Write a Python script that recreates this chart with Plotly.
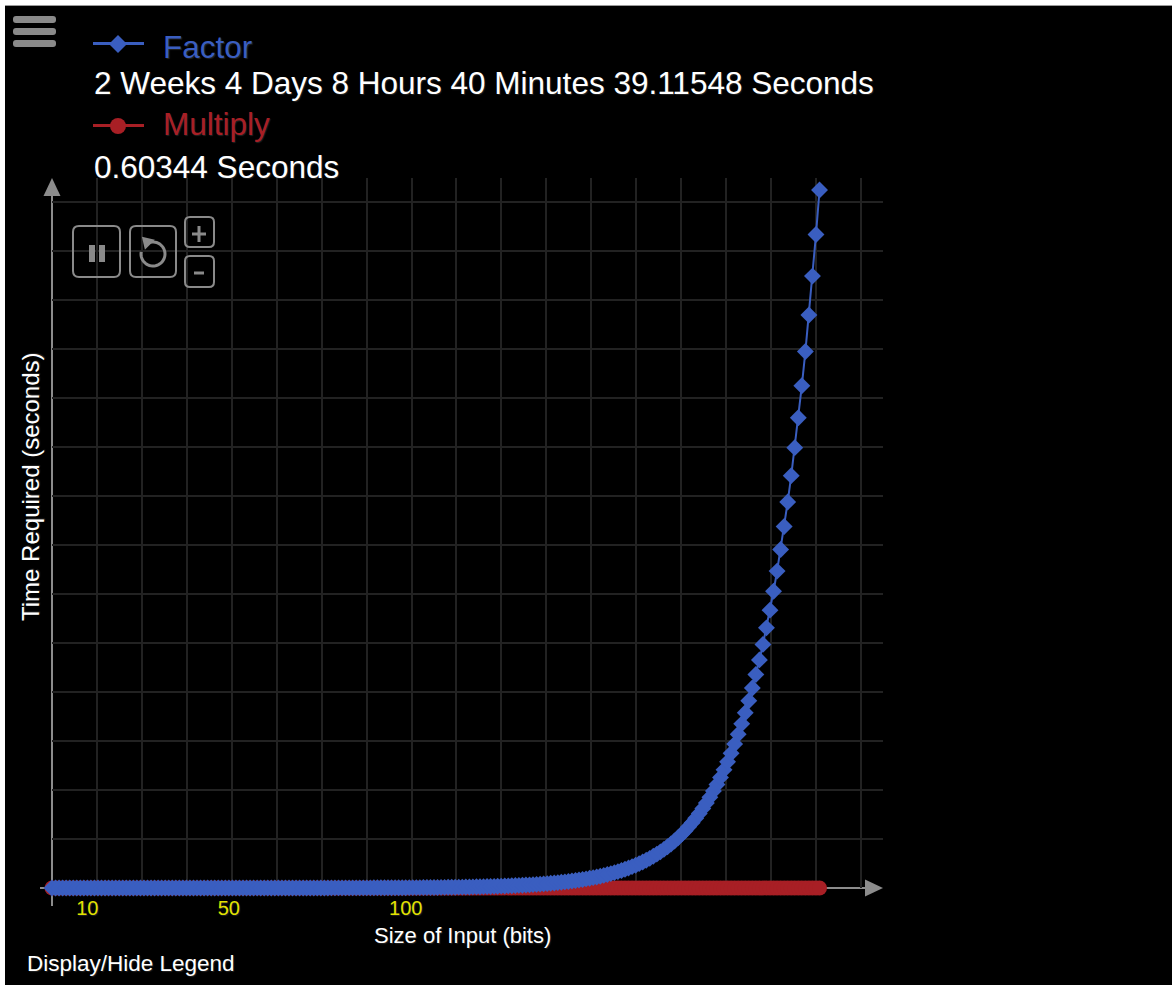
import math
import plotly.graph_objects as go

# ---------------- data ----------------
bits = list(range(0, 218))  # size of input (bits)

factor_seconds = [
    1.00, 1.07, 1.14, 1.22, 1.30, 1.39, 1.48, 1.58, 1.69, 1.81,
    1.93, 2.06, 2.20, 2.35, 2.51, 2.68, 2.87, 3.06, 3.27, 3.49,
    3.73, 3.98, 4.25, 4.54, 4.85, 5.18, 5.53, 5.91, 6.31, 6.74,
    7.20, 7.69, 8.21, 8.77, 9.36, 10.0, 10.7, 11.4, 12.2, 13.0,
    13.9, 14.8, 15.9, 16.9, 18.1, 19.3, 20.6, 22.0, 23.5, 25.1,
    26.8, 28.7, 30.6, 32.7, 34.9, 37.3, 39.8, 42.5, 45.4, 48.5,
    51.8, 55.3, 59.1, 63.1, 67.4, 72.0, 76.9, 82.1, 87.7, 93.7,
    100, 107, 114, 122, 130, 139, 148, 159, 169, 181,
    193, 206, 220, 235, 251, 268, 287, 306, 327, 349,
    373, 398, 425, 454, 485, 518, 553, 591, 631, 674,
    720, 769, 821, 877, 937, 1000, 1068, 1141, 1219, 1302,
    1390, 1485, 1586, 1693, 1809, 1932, 2063, 2203, 2353, 2513,
    2684, 2867, 3062, 3270, 3492, 3730, 3983, 4254, 4543, 4852,
    5182, 5535, 5911, 6313, 6742, 7201, 7691, 8214, 8772, 9369,
    10006, 10686, 11413, 12189, 13018, 13903, 14849, 15859, 16937, 18089,
    19319, 20633, 22036, 23535, 25135, 26844, 28670, 30620, 32702, 34926,
    37301, 39838, 42547, 45440, 48530, 51831, 55356, 59120, 63140, 67434,
    72020, 76918, 82149, 87735, 93702, 100074, 106880, 114148, 121910, 130201,
    139055, 148511, 158611, 169397, 180917, 193221, 206360, 220393, 235381, 251390,
    268485, 286743, 306243, 327069, 349312, 373065, 398437, 425533, 454470, 485378,
    518385, 553638, 591288, 631499, 674442, 720308, 769293, 821609, 877482, 937156,
    1000887, 1068952, 1141647, 1219285, 1302200, 1390759, 1485336, 1586439.11548,
]

multiply_seconds = [
    0.0000, 0.0000, 0.0001, 0.0001, 0.0002, 0.0003, 0.0005, 0.0006, 0.0008, 0.0010,
    0.0013, 0.0016, 0.0018, 0.0022, 0.0025, 0.0029, 0.0033, 0.0037, 0.0042, 0.0046,
    0.0051, 0.0057, 0.0062, 0.0068, 0.0074, 0.0080, 0.0087, 0.0093, 0.0100, 0.0108,
    0.0115, 0.0123, 0.0131, 0.0140, 0.0148, 0.0157, 0.0166, 0.0175, 0.0185, 0.0195,
    0.0205, 0.0215, 0.0226, 0.0237, 0.0248, 0.0260, 0.0271, 0.0283, 0.0295, 0.0308,
    0.0320, 0.0333, 0.0347, 0.0360, 0.0374, 0.0388, 0.0402, 0.0416, 0.0431, 0.0446,
    0.0461, 0.0477, 0.0493, 0.0509, 0.0525, 0.0541, 0.0558, 0.0575, 0.0593, 0.0610,
    0.0628, 0.0646, 0.0664, 0.0683, 0.0702, 0.0721, 0.0740, 0.0760, 0.0780, 0.0800,
    0.0820, 0.0841, 0.0862, 0.0883, 0.0904, 0.0926, 0.0948, 0.0970, 0.0992, 0.1015,
    0.1038, 0.1061, 0.1085, 0.1108, 0.1132, 0.1157, 0.1181, 0.1206, 0.1231, 0.1256,
    0.1281, 0.1307, 0.1333, 0.1360, 0.1386, 0.1413, 0.1440, 0.1467, 0.1495, 0.1523,
    0.1551, 0.1579, 0.1607, 0.1636, 0.1665, 0.1695, 0.1724, 0.1754, 0.1784, 0.1815,
    0.1845, 0.1876, 0.1907, 0.1939, 0.1970, 0.2002, 0.2034, 0.2067, 0.2100, 0.2133,
    0.2166, 0.2199, 0.2233, 0.2267, 0.2301, 0.2336, 0.2370, 0.2405, 0.2440, 0.2476,
    0.2512, 0.2548, 0.2584, 0.2621, 0.2657, 0.2694, 0.2732, 0.2769, 0.2807, 0.2845,
    0.2883, 0.2922, 0.2961, 0.3000, 0.3039, 0.3079, 0.3119, 0.3159, 0.3199, 0.3240,
    0.3281, 0.3322, 0.3363, 0.3405, 0.3447, 0.3489, 0.3531, 0.3574, 0.3617, 0.3660,
    0.3704, 0.3747, 0.3791, 0.3835, 0.3880, 0.3925, 0.3970, 0.4015, 0.4060, 0.4106,
    0.4152, 0.4198, 0.4245, 0.4292, 0.4339, 0.4386, 0.4433, 0.4481, 0.4529, 0.4577,
    0.4626, 0.4675, 0.4724, 0.4773, 0.4823, 0.4873, 0.4923, 0.4973, 0.5024, 0.5075,
    0.5126, 0.5177, 0.5229, 0.5281, 0.5333, 0.5385, 0.5438, 0.5491, 0.5544, 0.5598,
    0.5651, 0.5705, 0.5760, 0.5814, 0.5869, 0.5924, 0.5979, 0.60344,
]

x_tick_values = [10, 50, 100]
x_tick_labels = ["10", "50", "100"]

series_names = ["Factor", "Multiply"]
factor_total_text = "2 Weeks 4 Days 8 Hours 40 Minutes 39.11548 Seconds"
multiply_total_text = "0.60344 Seconds"

# ---------------- styling / layout constants ----------------
W, H = 1172, 985
PLOT_L, PLOT_R, PLOT_T, PLOT_B = 52, 883, 178, 888
PX_PER_BIT = 3.537
TOP_POINT_PX = 190

BLUE = "#3a5ec0"
RED = "#a81f25"
GRAY = "#8c8c8c"
GRID = "#222222"
YELLOW = "#e2e200"
FONT = "Liberation Sans, Arial, Helvetica, sans-serif"
SHADOW = "1px 1px 1px #222"

x_max = (PLOT_R - PLOT_L) / PX_PER_BIT
y_max = factor_seconds[-1] * (PLOT_B - PLOT_T) / (PLOT_B - TOP_POINT_PX)
y_grid_step = y_max * 49 / (PLOT_B - PLOT_T)
x_grid_step = 44.94 / PX_PER_BIT


def px(x):
    return x / W


def py(y):
    return 1 - y / H


def pt(x, y):
    return f"{px(x):.6f},{py(y):.6f}"


def poly_path(points, closed=True):
    s = "M" + pt(*points[0]) + "".join("L" + pt(*p) for p in points[1:])
    return s + ("Z" if closed else "")


def rrect_path(x0, y0, x1, y1, r):
    return (
        "M" + pt(x0 + r, y0)
        + "L" + pt(x1 - r, y0) + "Q" + pt(x1, y0) + " " + pt(x1, y0 + r)
        + "L" + pt(x1, y1 - r) + "Q" + pt(x1, y1) + " " + pt(x1 - r, y1)
        + "L" + pt(x0 + r, y1) + "Q" + pt(x0, y1) + " " + pt(x0, y1 - r)
        + "L" + pt(x0, y0 + r) + "Q" + pt(x0, y0) + " " + pt(x0 + r, y0) + "Z"
    )


shapes = []


def add_line(x0, y0, x1, y1, color, width, layer="above"):
    shapes.append(dict(type="line", xref="paper", yref="paper",
                       x0=px(x0), y0=py(y0), x1=px(x1), y1=py(y1),
                       line=dict(color=color, width=width), layer=layer))


def add_path(path, fill=None, line_color=None, width=0, layer="above"):
    shapes.append(dict(type="path", xref="paper", yref="paper", path=path, layer=layer,
                       fillcolor=fill or "rgba(0,0,0,0)",
                       line=dict(color=line_color or "rgba(0,0,0,0)", width=width)))


# white frame at top/left of the screenshot
add_path(poly_path([(0, 0), (W, 0), (W, 5), (0, 5)]), fill="white", layer="below")
add_path(poly_path([(0, 0), (5, 0), (5, H), (0, H)]), fill="white", layer="below")
add_line(5, 5.5, W, 5.5, "#9a9a9a", 1, layer="below")

# axis lines with arrow heads (below the traces)
add_line(PLOT_L, 906, PLOT_L, 192, GRAY, 2, layer="between")
add_path(poly_path([(PLOT_L, 178), (PLOT_L + 8.5, 196), (PLOT_L - 8.5, 196)]), fill=GRAY, layer="between")
add_line(40, PLOT_B, 869, PLOT_B, GRAY, 2, layer="between")
add_path(poly_path([(883, PLOT_B), (865, PLOT_B - 8.5), (865, PLOT_B + 8.5)]), fill=GRAY, layer="between")

# hamburger menu
BTN = "#8a8a8a"
for y0 in (16, 28, 40):
    add_path(rrect_path(13, y0, 56, y0 + 7, 3), fill=BTN)

# legend icons
add_line(93, 43.5, 144, 43.5, BLUE, 3)
add_path(poly_path([(118, 35), (127, 44), (118, 53), (109, 44)]), fill=BLUE)
add_line(93, 125.5, 144, 125.5, RED, 3)
shapes.append(dict(type="circle", xref="paper", yref="paper",
                   x0=px(110), x1=px(126), y0=py(118), y1=py(134),
                   fillcolor=RED, line=dict(color=RED, width=0)))

# control buttons (pause, reload, +, -)
add_path(rrect_path(73, 226, 120, 277, 6), line_color=BTN, width=2)
add_path(poly_path([(89, 245), (95, 245), (95, 262), (89, 262)]), fill=BTN)
add_path(poly_path([(99, 245), (105, 245), (105, 262), (99, 262)]), fill=BTN)
add_path(rrect_path(130, 226, 176, 277, 6), line_color=BTN, width=2)
cx, cy, rad = 153, 254, 12
arc = []
for i in range(0, 41):
    a = math.radians(110 - i * 7.5)  # clockwise, starting upper-left
    arc.append((cx + rad * math.cos(a), cy - rad * math.sin(a)))
add_path(poly_path(arc, closed=False), line_color=BTN, width=3)
sx, sy = arc[0]
add_path(poly_path([(sx - 7, sy - 6), (sx + 6, sy - 3), (sx - 4, sy + 7)]), fill=BTN)
add_path(rrect_path(185, 217, 214, 247, 5), line_color=BTN, width=2)
add_line(192, 234, 206, 234, BTN, 3)
add_line(199, 226, 199, 242, BTN, 3)
add_path(rrect_path(185, 256, 214, 287, 5), line_color=BTN, width=2)
add_line(194, 273, 204, 273, BTN, 3)

annotations = []


def add_text(text, x, y, size, color, xanchor="left", angle=0):
    annotations.append(dict(text=text, x=px(x), y=py(y), xref="paper", yref="paper",
                            xanchor=xanchor, yanchor="middle", showarrow=False,
                            textangle=angle,
                            font=dict(family=FONT, size=size, color=color, shadow=SHADOW)))


add_text(series_names[0], 161, 47, 31.5, BLUE)
add_text(factor_total_text, 92, 83, 31.5, "white")
add_text(series_names[1], 161, 124, 31.5, RED)
add_text(multiply_total_text, 92, 167, 31.5, "white")
add_text("Time Required (seconds)", 31, 487, 24, "white", xanchor="center", angle=-90)
add_text("Size of Input (bits)", 462, 935, 22, "white", xanchor="center")
add_text("Display/Hide Legend", 25, 963, 22.5, "white")

fig = go.Figure()
fig.add_trace(go.Scatter(
    x=bits, y=multiply_seconds, name=series_names[1], mode="lines+markers",
    line=dict(color=RED, width=2), marker=dict(symbol="circle", size=15, color=RED),
    cliponaxis=False,
))
fig.add_trace(go.Scatter(
    x=bits, y=factor_seconds, name=series_names[0], mode="lines+markers",
    line=dict(color=BLUE, width=2), marker=dict(symbol="diamond", size=13, color=BLUE),
    cliponaxis=False,
))

fig.update_layout(
    width=W, height=H, autosize=False,
    margin=dict(l=0, r=0, t=0, b=0, pad=0),
    paper_bgcolor="black", plot_bgcolor="black",
    showlegend=False,
    font=dict(family=FONT, color="white"),
    xaxis=dict(
        domain=[PLOT_L / W, PLOT_R / W], range=[0, x_max],
        tickmode="array", tickvals=x_tick_values, ticktext=x_tick_labels,
        ticks="", showgrid=False, zeroline=False, showline=False,
        tickfont=dict(family=FONT, size=20, color=YELLOW, shadow=SHADOW),
        ticklabelstandoff=6,
        minor=dict(tickmode="linear", tick0=0, dtick=x_grid_step, showgrid=True,
                   gridcolor=GRID, gridwidth=1.5, ticks=""),
    ),
    yaxis=dict(
        domain=[1 - PLOT_B / H, 1 - PLOT_T / H], range=[0, y_max],
        tick0=0, dtick=y_grid_step, showticklabels=False, ticks="",
        showgrid=True, gridcolor=GRID, gridwidth=1.5, zeroline=False, showline=False,
    ),
    shapes=shapes,
    annotations=annotations,
)

fig.write_html("out.html", config={"displayModeBar": False},
               post_script="document.body.style.margin='0px';document.body.style.background='black';")
